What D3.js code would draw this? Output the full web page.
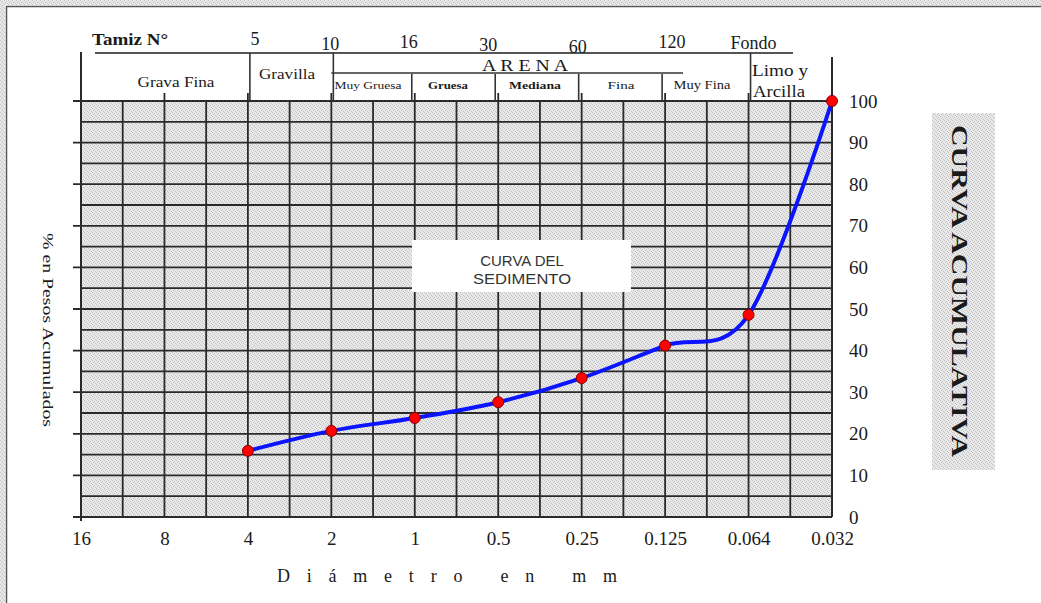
<!DOCTYPE html>
<html><head><meta charset="utf-8">
<script src="https://cdn.jsdelivr.net/npm/d3@7"></script>
<style>html,body{margin:0;padding:0;background:#fff;overflow:hidden}</style>
</head><body>
<svg id="c" width="1041" height="603"></svg>
<script>
// ---- data ----
const diameters = ["16","8","4","2","1","0.5","0.25","0.125","0.064","0.032"];
const pointDiameters = ["4","2","1","0.5","0.25","0.125","0.064","0.032"];
const pctValues = [15.9, 20.7, 23.8, 27.6, 33.4, 41.2, 48.6, 100];
const yTicks = [0,10,20,30,40,50,60,70,80,90,100];
const sieveNumbers = ["5","10","16","30","60","120","Fondo"];
const sieveAnchors = ["4","2","1","0.5","0.25","0.125","0.064"];
const topClasses = ["Grava Fina","Gravilla","A R E N A","Limo y","Arcilla"];
const sandClasses = ["Muy Gruesa","Gruesa","Mediana","Fina","Muy Fina"];
const sandBounds = ["2","1","0.5","0.25","0.125","0.064"];

// ---- setup ----
const svg = d3.select("#c");
const serif = "'Liberation Serif','Times New Roman',serif";
const x = d3.scalePoint().domain(diameters).range([81, 832]);
const y = d3.scaleLinear().domain([0,100]).range([517, 101]);
const step = x.step();
const X0 = x(diameters[0]), X1 = x(diameters[diameters.length-1]);

const defs = svg.append("defs");
const pat = defs.append("pattern").attr("id","stip").attr("width",4).attr("height",4)
  .attr("patternUnits","userSpaceOnUse");
pat.append("rect").attr("width",4).attr("height",4).attr("fill","#e9e9e9");
[[0,0],[2,1],[1,2],[3,3]].forEach(([a,b])=>pat.append("rect").attr("x",a).attr("y",b)
  .attr("width",1).attr("height",1).attr("fill","#c2c2c2"));

// outer frame
svg.append("rect").attr("x",0).attr("y",0).attr("width",5).attr("height",603).attr("fill","url(#stip)");
svg.append("rect").attr("x",0).attr("y",0).attr("width",1041).attr("height",5).attr("fill","url(#stip)");
svg.append("line").attr("x1",6.5).attr("x2",6.5).attr("y1",6).attr("y2",603).attr("stroke","#555").attr("stroke-width",1.5);
svg.append("line").attr("x1",6).attr("x2",1041).attr("y1",6.5).attr("y2",6.5).attr("stroke","#555").attr("stroke-width",1.5);

// grid background
svg.append("rect").attr("x",X0).attr("y",y(100)).attr("width",X1-X0).attr("height",y(0)-y(100))
  .attr("fill","url(#stip)");

const gridC = "#2a2a2a";
const g = svg.append("g");
// horizontal grid lines every 5
d3.range(0,101,5).forEach(v=>{
  g.append("line").attr("x1", v%10===0 ? X0-8 : X0).attr("x2",X1)
   .attr("y1",y(v)).attr("y2",y(v)).attr("stroke",gridC).attr("stroke-width",1.8);
});
// vertical grid lines every half step
d3.range(0,19).forEach(i=>{
  const xv = X0 + i*step/2;
  let top = y(100), bot = y(0);
  if (i%2===0) top = y(100)-8;
  if (i===0) { top = 52; bot = y(0)+4; }
  if (i===18) top = 57;
  g.append("line").attr("x1",xv).attr("x2",xv).attr("y1",top).attr("y2",bot)
   .attr("stroke",gridC).attr("stroke-width",i===0||i===18?2:1.8);
});

// ---- header ----
const hdr = svg.append("g").attr("stroke","#333").attr("stroke-width",1.6);
hdr.append("line").attr("x1",95).attr("x2",793).attr("y1",53).attr("y2",53).attr("stroke","#555").attr("stroke-width",2.2);
["4","2","0.064"].forEach(d=>hdr.append("line").attr("x1",x(d)+2).attr("x2",x(d)+2).attr("y1",53).attr("y2",y(100)));
hdr.append("line").attr("x1",x("2")).attr("x2",683).attr("y1",73).attr("y2",73);
sandBounds.slice(1,5).forEach(d=>hdr.append("line").attr("x1",x(d)-3).attr("x2",x(d)-3).attr("y1",74).attr("y2",y(100)));

function txt(s, cx, by, size, opts={}) {
  const t = svg.append("text").attr("x",cx).attr("y",by).attr("font-family",opts.family||serif)
    .attr("font-size",size).attr("fill",opts.fill||"#1a1a1a").attr("text-anchor",opts.anchor||"middle")
    .attr("font-weight",opts.weight||"normal").text(s);
  if (opts.len) t.attr("textLength",opts.len).attr("lengthAdjust","spacingAndGlyphs");
  return t;
}
txt("Tamiz N°", 92, 45, 17, {anchor:"start", weight:"bold", len:76});
const sieveOffsets = [7, -1, -6, -10, -4, 7, 5];
const sieveBase = [45, 50, 48, 51, 53, 48, 49];
sieveNumbers.forEach((s,i)=>txt(s, x(sieveAnchors[i])+sieveOffsets[i], sieveBase[i], 18));

txt(topClasses[0], 176, 87, 14, {len:77});
txt(topClasses[1], 287, 79, 15, {len:56});
txt(topClasses[2], 525, 71, 17, {len:86});
txt(topClasses[3], 780, 76, 17, {len:56});
txt(topClasses[4], 779, 97, 17, {len:52});
const sandCx = [368, 448, 535, 621, 702];
const sandLen = [67, 40, 52, 27, 57];
const sandSize = [10, 11, 11, 11, 12];
sandClasses.forEach((s,i)=>txt(s, sandCx[i], 89, sandSize[i], {len:sandLen[i], weight: i>0&&i<3?"bold":"normal"}));

// ---- axes labels ----
const yAxis = d3.axisRight(y).tickValues(yTicks).tickSize(0).tickPadding(17);
const ya = svg.append("g").attr("transform",`translate(${X1},0)`).call(yAxis);
ya.select(".domain").remove();
ya.selectAll("text").attr("font-family",serif).attr("font-size",19).attr("fill","#1a1a1a");

const xAxis = d3.axisBottom(x).tickSize(0).tickPadding(15);
const xa = svg.append("g").attr("transform",`translate(0,${y(0)})`).call(xAxis);
xa.select(".domain").remove();
xa.selectAll("text").attr("font-family",serif).attr("font-size",19).attr("fill","#1a1a1a");

txt("D i á m e t r o   e n   m m", 447, 582, 18, {len:340}).attr("lengthAdjust","spacing").style("white-space","pre");

svg.append("text").attr("transform","translate(43,330) rotate(90)").attr("text-anchor","middle")
  .attr("font-family",serif).attr("font-size",15).attr("fill","#1a1a1a")
  .attr("textLength",194).attr("lengthAdjust","spacingAndGlyphs").text("% en Pesos Acumulados");

// right title box
svg.append("rect").attr("x",932).attr("y",113).attr("width",63).attr("height",357).attr("fill","url(#stip)");
svg.append("text").attr("transform","translate(952,291) rotate(90)").attr("text-anchor","middle")
  .attr("font-family",serif).attr("font-size",23).attr("font-weight","bold").attr("fill","#1a1a1a")
  .attr("textLength",332).attr("lengthAdjust","spacingAndGlyphs").text("CURVA ACUMULATIVA");

// center label
svg.append("rect").attr("x",412).attr("y",240).attr("width",219).attr("height",52).attr("fill","#fff");
const sans = "'Liberation Sans',Arial,sans-serif";
txt("CURVA DEL", 522, 266, 15, {family:sans, fill:"#333"});
txt("SEDIMENTO", 522, 284, 15, {family:sans, fill:"#333", len:98});

// ---- curve ----
const pts = pointDiameters.map((d,i)=>({d, v:pctValues[i]}));
const line = d3.line().x(p=>x(p.d)).y(p=>y(p.v)).curve(d3.curveCatmullRom.alpha(0));
svg.append("path").datum(pts).attr("d",line).attr("fill","none").attr("stroke","#0a14ff")
  .attr("stroke-width",4).attr("stroke-linejoin","round").attr("stroke-linecap","round");
svg.selectAll("circle.pt").data(pts).join("circle").attr("class","pt")
  .attr("cx",p=>x(p.d)).attr("cy",p=>y(p.v)).attr("r",5.5)
  .attr("fill","#ff0000").attr("stroke","#8a0000").attr("stroke-width",1);
</script>
</body></html>
